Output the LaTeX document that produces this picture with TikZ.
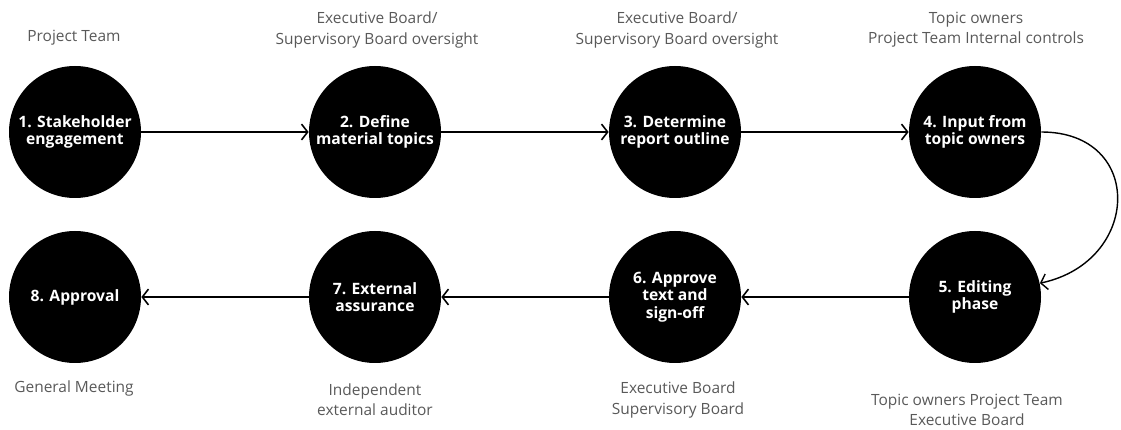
\documentclass[tikz,border=0pt]{standalone}
\usepackage{fontspec}
\setmainfont{Open Sans}
\usetikzlibrary{arrows.meta}

\begin{document}
\begin{tikzpicture}[
        stage/.style={circle,fill=black,text=white,minimum size=2.64cm,inner sep=0pt,align=center,font=\bfseries\fontsize{8.9}{9.9}\selectfont},
        owner/.style={align=center,text=black!65,font=\fontsize{8.8}{11.4}\selectfont},
        flow/.style={->,line width=0.9pt},
        >={Straight Barb[length=3.5pt,width=9pt]}]
            \useasboundingbox (0,0) rectangle (22.42,8.6);

            % top row, left to right
            \node[stage] (s1) at (1.5,5.96) {1. Stakeholder\\engagement};
            \node[stage] (s2) at (7.5,5.96) {2. Define\\material topics};
            \node[stage] (s3) at (13.5,5.96) {3. Determine\\report outline};
            \node[stage] (s4) at (19.5,5.96) {4. Input from\\topic owners};
            % bottom row, right to left
            \node[stage] (s5) at (19.5,2.66) {5. Editing\\phase};
            \node[stage] (s6) at (13.5,2.66) {6. Approve\\text and\\sign-off};
            \node[stage] (s7) at (7.5,2.66) {7. External\\assurance};
            \node[stage] (s8) at (1.5,2.66) {8. Approval};

            \draw[flow] (s1)--(s2);
            \draw[flow] (s2)--(s3);
            \draw[flow] (s3)--(s4);
            \draw[flow,line width=0.8pt] (s4) to[out=0,in=12,looseness=1.75] (s5);
            \draw[flow] (s5)--(s6);
            \draw[flow] (s6)--(s7);
            \draw[flow] (s7)--(s8);

            % who is involved
            \node[owner] (o1) at (1.48,7.84) {Project Team};
            \node[owner] (o2) at (7.54,8.0) {Executive Board/\\Supervisory Board oversight};
            \node[owner] (o3) at (13.54,8.0) {Executive Board/\\Supervisory Board oversight};
            \node[owner] (o4) at (19.52,8.0) {Topic owners\\Project Team Internal controls};
            \node[owner] (o5) at (19.34,0.4) {Topic owners Project Team\\Executive Board};
            \node[owner] (o6) at (13.56,0.6) {Executive Board\\Supervisory Board};
            \node[owner] (o7) at (7.5,0.6) {Independent\\external auditor};
            \node[owner] (o8) at (1.48,0.84) {General Meeting};
        \end{tikzpicture}
\end{document}
